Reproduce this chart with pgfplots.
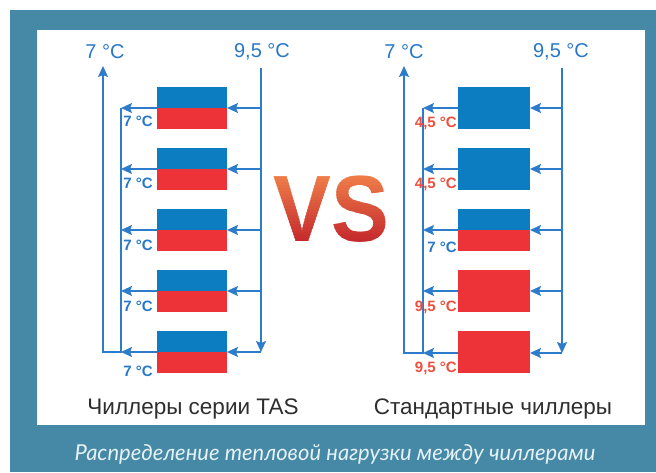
\documentclass[border=0pt]{standalone}
\usepackage{fontspec}
\setmainfont{Liberation Sans}
\newfontfamily\capfont{Lato}
\usepackage{pgfplots}
\pgfplotsset{compat=1.18}
\usetikzlibrary{arrows.meta}
\definecolor{framec}{HTML}{4589A6}
\definecolor{boxblue}{HTML}{0B7DC0}
\definecolor{boxred}{HTML}{EE3338}
\definecolor{lineblue}{HTML}{2C7CCB}
\definecolor{lblue}{HTML}{2878C8}
\definecolor{lred}{HTML}{F04E3E}
\definecolor{vsA}{HTML}{F0804A}
\definecolor{vsB}{HTML}{C4282C}
\definecolor{captc}{HTML}{E6F1F5}
\definecolor{darktext}{HTML}{2E2E2E}
\tikzset{
  ln/.style={draw=lineblue, line width=1.5pt, mark=none},
  ar/.style={ln, -{Stealth[length=11pt,width=10pt,inset=2pt]}},
  tb/.style={font=\fontsize{15}{15}\selectfont\bfseries, inner sep=0pt, anchor=east},
}
\begin{document}
\begin{tikzpicture}
\begin{axis}[hide axis, scale only axis, width=656pt, height=472pt,
  xmin=0, xmax=656, ymin=0, ymax=472, y dir=reverse, clip=false]
% frame and panel
\addplot[fill=white, draw=none] coordinates {(0,0)(656,0)(656,472)(0,472)};
\addplot[fill=framec, draw=none] coordinates {(10,10)(656,10)(656,472)(10,472)};
\addplot[fill=white, draw=none] coordinates {(37,30)(645,30)(645,425)(37,425)};
\coordinate (o) at (axis cs:0,0);
% ---------- left diagram: boxes ----------
\addplot[fill=boxblue, draw=none] coordinates {(157,87)(227,87)(227,108)(157,108)};
\addplot[fill=boxred, draw=none] coordinates {(157,108)(227,108)(227,129)(157,129)};
\addplot[fill=boxblue, draw=none] coordinates {(157,148)(227,148)(227,169)(157,169)};
\addplot[fill=boxred, draw=none] coordinates {(157,169)(227,169)(227,190)(157,190)};
\addplot[fill=boxblue, draw=none] coordinates {(157,209)(227,209)(227,230)(157,230)};
\addplot[fill=boxred, draw=none] coordinates {(157,230)(227,230)(227,251)(157,251)};
\addplot[fill=boxblue, draw=none] coordinates {(157,270)(227,270)(227,291)(157,291)};
\addplot[fill=boxred, draw=none] coordinates {(157,291)(227,291)(227,312)(157,312)};
\addplot[fill=boxblue, draw=none] coordinates {(157,331)(227,331)(227,352)(157,352)};
\addplot[fill=boxred, draw=none] coordinates {(157,352)(227,352)(227,373)(157,373)};
% left diagram: lines
\addplot[ar] coordinates {(261,68)(261,352)};
\addplot[ar] coordinates {(261,108)(227,108)};
\addplot[ar] coordinates {(261,169)(227,169)};
\addplot[ar] coordinates {(261,230)(227,230)};
\addplot[ar] coordinates {(261,291)(227,291)};
\addplot[ar] coordinates {(261,352)(227,352)};
\addplot[ar] coordinates {(157,108)(121,108)};
\addplot[ar] coordinates {(157,169)(121,169)};
\addplot[ar] coordinates {(157,230)(121,230)};
\addplot[ar] coordinates {(157,291)(121,291)};
\addplot[ar] coordinates {(157,352)(121,352)};
\addplot[ar] coordinates {(121,108)(121,352)(103,352)(103,66)};
% ---------- right diagram: boxes ----------
\addplot[fill=boxblue, draw=none] coordinates {(458,87)(530,87)(530,129)(458,129)};
\addplot[fill=boxblue, draw=none] coordinates {(458,148)(530,148)(530,190)(458,190)};
\addplot[fill=boxblue, draw=none] coordinates {(458,209)(530,209)(530,230)(458,230)};
\addplot[fill=boxred, draw=none] coordinates {(458,230)(530,230)(530,251)(458,251)};
\addplot[fill=boxred, draw=none] coordinates {(458,270)(530,270)(530,312)(458,312)};
\addplot[fill=boxred, draw=none] coordinates {(458,331)(530,331)(530,373)(458,373)};
% right diagram: lines
\addplot[ar] coordinates {(562,68)(562,353)};
\addplot[ar] coordinates {(562,108)(530,108)};
\addplot[ar] coordinates {(562,169)(530,169)};
\addplot[ar] coordinates {(562,230)(530,230)};
\addplot[ar] coordinates {(562,291)(530,291)};
\addplot[ar] coordinates {(562,353)(530,353)};
\addplot[ar] coordinates {(458,108)(423,108)};
\addplot[ar] coordinates {(458,169)(423,169)};
\addplot[ar] coordinates {(458,230)(423,230)};
\addplot[ar] coordinates {(458,291)(423,291)};
\addplot[ar] coordinates {(458,353)(423,353)};
\addplot[ar] coordinates {(423,108)(423,353)(404,353)(404,66)};
% ---------- labels ----------
\node[font=\fontsize{20}{20}\selectfont, text=lblue] at (axis cs:105,52) {7 °C};
\node[font=\fontsize{20}{20}\selectfont, text=lblue] at (axis cs:262,52) {9,5 °C};
\node[font=\fontsize{20}{20}\selectfont, text=lblue] at (axis cs:404,52) {7 °C};
\node[font=\fontsize{20}{20}\selectfont, text=lblue] at (axis cs:561,52) {9,5 °C};
\node[tb, text=lblue] at (axis cs:153,121) {7 °C};
\node[tb, text=lblue] at (axis cs:153,183) {7 °C};
\node[tb, text=lblue] at (axis cs:153,245) {7 °C};
\node[tb, text=lblue] at (axis cs:153,306) {7 °C};
\node[tb, text=lblue] at (axis cs:153,371) {7 °C};
\node[tb, text=lred] at (axis cs:457,123) {4,5 °C};
\node[tb, text=lred] at (axis cs:457,184) {4,5 °C};
\node[tb, text=lblue] at (axis cs:457,247) {7 °C};
\node[tb, text=lred] at (axis cs:457,307) {9,5 °C};
\node[tb, text=lred] at (axis cs:457,368) {9,5 °C};
\node[font=\fontsize{22.5}{22.5}\selectfont, text=darktext, anchor=base] at (axis cs:193,414) {Чиллеры серии TAS};
\node[font=\fontsize{22.5}{22.5}\selectfont, text=darktext, anchor=base] at (axis cs:493,414) {Стандартные чиллеры};
\node[font=\capfont\itshape\fontsize{22}{22}\selectfont, text=captc, anchor=base] at (axis cs:335,460) {Распределение тепловой нагрузки между чиллерами};
\end{axis}
% ---------- VS with vertical gradient ----------
\begin{scope}[shift={(o)}, x=1pt, y=-1pt]
\foreach \i in {0,...,39} {
  \pgfmathsetmacro\t{min(100,max(0,(150+3*\i+1.5-175)/67*100))}
  \begin{scope}
    \clip (265,150+3*\i) rectangle (400,150+3*\i+3.4);
    \node[anchor=base, inner sep=0pt, font=\fontsize{94}{94}\selectfont\bfseries, text=vsB!\t!vsA, xscale=0.92] at (331,242) {VS};
  \end{scope}
}
\end{scope}
\end{tikzpicture}
\end{document}
